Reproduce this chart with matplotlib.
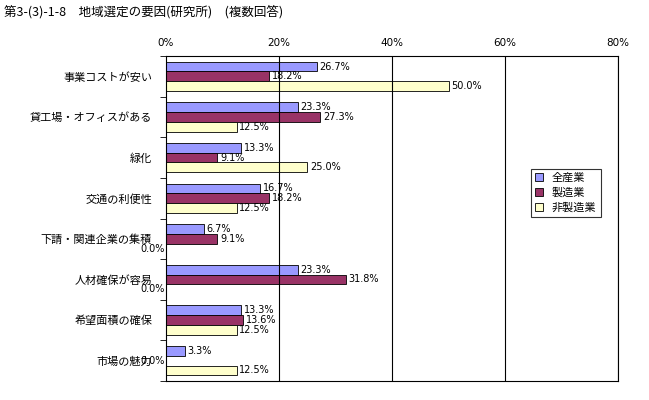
import matplotlib
matplotlib.use("Agg")
import matplotlib.pyplot as plt
import numpy as np

plt.rcParams['font.family'] = ['Noto Sans CJK JP']

categories = ["事業コストが安い", "貸工場・オフィスがある", "緑化", "交通の利便性",
              "下請・関連企業の集積", "人材確保が容易", "希望面積の確保", "市場の魅力"]
series_names = ["全産業", "製造業", "非製造業"]
all_ind = [26.7, 23.3, 13.3, 16.7, 6.7, 23.3, 13.3, 3.3]
manuf = [18.2, 27.3, 9.1, 18.2, 9.1, 31.8, 13.6, 0.0]
nonmanuf = [50.0, 12.5, 25.0, 12.5, 0.0, 0.0, 12.5, 12.5]
colors = ["#9999FF", "#993366", "#FFFFCC"]
xticks = [0, 20, 40, 60, 80]

fig = plt.figure(figsize=(6.49, 4.0), dpi=100)
ax = fig.add_axes([166/649, 1-381/400, (618-166)/649, (381-56)/400])
y = np.arange(len(categories))
h = 0.24
for i, (vals, c) in enumerate(zip([all_ind, manuf, nonmanuf], colors)):
    pos = y + (i-1)*h
    ax.barh(pos, vals, height=h, color=c, edgecolor="black", linewidth=0.6, label=series_names[i])
    for p, v in zip(pos, vals):
        if v > 0:
            ax.text(v+0.5, p, f"{v:.1f}%", va="center", ha="left", fontsize=7, family="DejaVu Sans")
        else:
            ax.text(-0.3, p, f"{v:.1f}%", va="center", ha="right", fontsize=7, family="DejaVu Sans")
ax.set_xlim(0, 80)
ax.set_ylim(len(categories)-0.5, -0.5)
ax.set_xticks(xticks)
ax.set_xticklabels([f"{t}%" for t in xticks], fontsize=7.5, family="DejaVu Sans")
ax.xaxis.tick_top()
ax.tick_params(axis='x', length=0, pad=6)
ax.set_yticks(y)
ax.set_yticklabels(categories, fontsize=8)
ax.set_yticks(np.arange(len(categories)+1)-0.5, minor=True)
ax.tick_params(axis='y', which='major', length=0, pad=10)
ax.tick_params(axis='y', which='minor', length=4, direction='out')
for t in xticks[1:]:
    ax.axvline(t, color="black", linewidth=0.8)
for s in ax.spines.values():
    s.set_linewidth(0.8)
leg = ax.legend(loc="upper left", bbox_to_anchor=((525-166)/(618-166), 1-(163-56)/(381-56)),
                fontsize=8, frameon=True, fancybox=False, edgecolor="black",
                handlelength=0.7, handleheight=0.7, borderpad=0.4, labelspacing=0.4)
leg.get_frame().set_linewidth(0.8)
fig.text(4/649, 1-12/400, "第3-(3)-1-8　地域選定の要因(研究所)　(複数回答)", fontsize=9, va="center", ha="left")
fig.savefig("out.png", dpi=100)
